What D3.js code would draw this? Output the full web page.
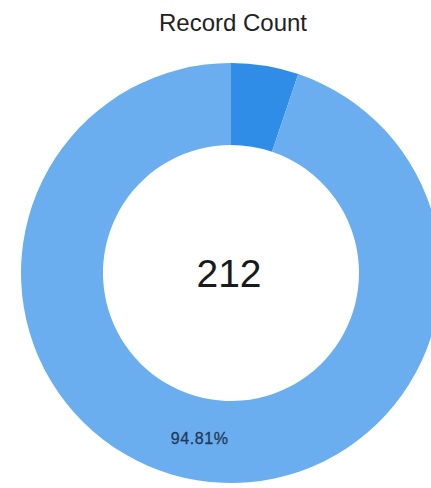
<!DOCTYPE html>
<html>
<head>
<meta charset="utf-8">
<script src="https://cdn.jsdelivr.net/npm/d3@7"></script>
<style>
  html, body { margin: 0; padding: 0; background: #ffffff; }
  svg { display: block; }
</style>
</head>
<body>
<svg id="chart" width="431" height="488"></svg>
<script>
const title = "Record Count";
const categories = ["Other", "Main"];
const values = [11, 201];
const colors = ["#2f8de8", "#6aaeef"];
const total = d3.sum(values);

const svg = d3.select("#chart");
const cx = 231, cy = 273, R = 210, r = 128;

svg.append("text")
  .attr("x", 233).attr("y", 31)
  .attr("text-anchor", "middle")
  .attr("font-family", "Liberation Sans, Arial, sans-serif")
  .attr("font-size", 24)
  .attr("fill", "#222")
  .text(title);

const pie = d3.pie().sort(null).value(d => d.value);
const data = categories.map((c, i) => ({ name: c, value: values[i], color: colors[i] }));
const arcs = pie(data);
const arc = d3.arc().innerRadius(r).outerRadius(R);

const g = svg.append("g").attr("transform", `translate(${cx},${cy})`);
g.selectAll("path.slice").data(arcs).enter().append("path")
  .attr("class", "slice")
  .attr("d", arc)
  .attr("fill", d => d.data.color);

g.selectAll("text.lbl").data(arcs.filter(d => d.data.value / total > 0.1)).enter().append("text")
  .attr("class", "lbl")
  .attr("transform", d => { const c = arc.centroid(d); return `translate(${c[0]-4},${c[1]+4})`; })
  .attr("text-anchor", "middle")
  .attr("font-family", "Liberation Sans, Arial, sans-serif")
  .attr("font-size", 16)
  .attr("letter-spacing", 0.6)
  .attr("stroke", "#22395a")
  .attr("stroke-width", 0.3)
  .attr("fill", "#22395a")
  .text(d => (d.data.value / total * 100).toFixed(2) + "%");

g.append("text")
  .attr("x", -2).attr("y", 14)
  .attr("text-anchor", "middle")
  .attr("font-family", "Liberation Sans, Arial, sans-serif")
  .attr("font-size", 39)
  .attr("fill", "#1a1a1a")
  .text(total);
</script>
</body>
</html>
